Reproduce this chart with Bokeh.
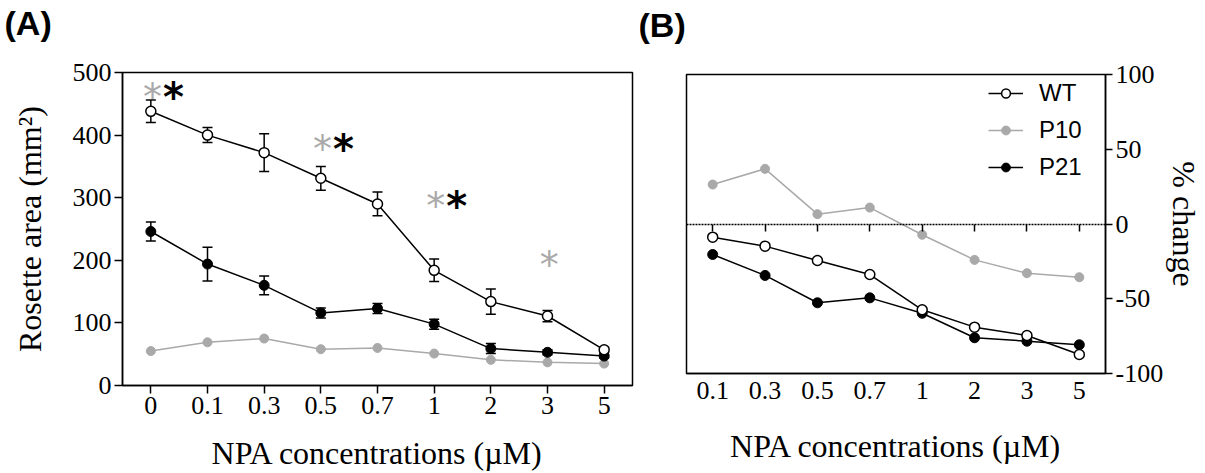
from bokeh.plotting import figure
from bokeh.models import (FactorRange, Range1d, Whisker, ColumnDataSource, CategoricalAxis,
                          SingleIntervalTicker, Legend, LegendItem, TeeHead)
from bokeh.transform import dodge
from bokeh.layouts import row, column
from bokeh.embed import file_html
from bokeh.resources import INLINE
from bokeh.core.properties import value

# ---------------- data ----------------
conc_a = ["0", "0.1", "0.3", "0.5", "0.7", "1", "2", "3", "5"]
wt_area = [438, 400, 372, 331, 290, 184, 134, 111, 57]
wt_err = [18, 12, 30, 19, 19, 18, 20, 9, 4]
p21_area = [246, 194, 160, 116, 123, 98, 59, 53, 47]
p21_err = [15, 27, 15, 8, 8, 8, 8, 4, 3]
p10_area = [55, 69, 75, 58, 60, 51, 41, 37, 35]

star_grey_conc = ["0", "0.5", "1", "3"]
star_grey_y = [474, 391, 300, 205]
star_black_conc = ["0", "0.5", "1"]
star_black_y = [474, 391, 300]

conc_b = ["0.1", "0.3", "0.5", "0.7", "1", "2", "3", "5"]
wt_change = [-8.8, -14.8, -24.4, -33.8, -57.4, -69.0, -74.6, -87.3]
p10_change = [26.4, 36.9, 6.6, 11.0, -7.2, -24.0, -32.9, -35.6]
p21_change = [-20.4, -34.4, -52.7, -49.4, -59.7, -76.1, -78.4, -80.8]

x_title = "NPA concentrations (µM)"
y_title_a = "Rosette area (mm²)"
y_title_b = "% change"

# ---------------- style ----------------
SERIF = "Liberation Serif"
SANS = "Liberation Sans"
GREY = "#a9a9a9"
TICK_FS = "26px"
LABEL_FS = "32px"


def style_axis(ax, tick_out=8):
    ax.axis_line_width = 1.5
    ax.axis_line_color = "black"
    ax.major_tick_line_width = 1.5
    ax.major_tick_line_color = "black"
    ax.major_tick_in = 0
    ax.major_tick_out = tick_out
    ax.minor_tick_line_color = None
    ax.major_label_text_font = SERIF
    ax.major_label_text_font_size = TICK_FS
    ax.major_label_text_color = "black"
    ax.axis_label_text_font = SERIF
    ax.axis_label_text_font_size = LABEL_FS
    ax.axis_label_text_font_style = "normal"
    ax.axis_label_text_color = "black"


def style_fig(p, offset):
    p.xgrid.visible = False
    p.ygrid.visible = False
    p.outline_line_color = "black"
    p.outline_line_width = 1.5
    p.background_fill_color = "white"
    p.border_fill_color = "white"
    p.title.text_font = SANS
    p.title.text_font_size = "34px"
    p.title.text_font_style = "bold"
    p.title.text_color = "black"
    p.title.text_line_height = 0.8
    p.title.align = "left"
    p.title.offset = offset
    p.title.standoff = 0


# ---------------- panel A ----------------
srcA = ColumnDataSource(dict(
    conc=conc_a,
    wt=wt_area,
    wt_lo=[v - e for v, e in zip(wt_area, wt_err)],
    wt_hi=[v + e for v, e in zip(wt_area, wt_err)],
    p21=p21_area,
    p21_lo=[v - e for v, e in zip(p21_area, p21_err)],
    p21_hi=[v + e for v, e in zip(p21_area, p21_err)],
    p10=p10_area,
))

pA = figure(x_range=FactorRange(*conc_a), y_range=Range1d(0, 500),
            width=640, height=473, title="(A)\n",
            min_border_left=122, min_border_right=8, min_border_top=72, min_border_bottom=88,
            output_backend="svg", toolbar_location=None)
style_fig(pA, -118)

style_axis(pA.xaxis[0])
pA.xaxis[0].major_label_standoff = 3
pA.xaxis[0].axis_label = x_title
pA.xaxis[0].axis_label_standoff = 18

style_axis(pA.yaxis[0])
pA.yaxis[0].ticker = SingleIntervalTicker(interval=100, num_minor_ticks=0)
pA.yaxis[0].major_label_standoff = 3
pA.yaxis[0].axis_label = y_title_a
pA.yaxis[0].axis_label_standoff = 22

for lo, hi in (("wt_lo", "wt_hi"), ("p21_lo", "p21_hi")):
    w = Whisker(base="conc", lower=lo, upper=hi, source=srcA, line_width=1.5, line_color="black",
                upper_head=TeeHead(size=10, line_width=1.5, line_color="black"),
                lower_head=TeeHead(size=10, line_width=1.5, line_color="black"))
    pA.add_layout(w)

pA.line("conc", "p10", source=srcA, line_color=GREY, line_width=1.5)
pA.scatter("conc", "p10", source=srcA, size=9, fill_color=GREY, line_color=GREY)
pA.line("conc", "p21", source=srcA, line_color="black", line_width=1.5)
pA.scatter("conc", "p21", source=srcA, size=10, fill_color="black", line_color="black")
pA.line("conc", "wt", source=srcA, line_color="black", line_width=1.5)
pA.scatter("conc", "wt", source=srcA, size=10, fill_color="white", line_color="black", line_width=1.5)

srcSG = ColumnDataSource(dict(conc=star_grey_conc, y=star_grey_y))
srcSB = ColumnDataSource(dict(conc=star_black_conc, y=star_black_y))
pA.text(x=dodge("conc", 0.03, range=pA.x_range), y="y", source=srcSG, text=value("*"),
        text_font=value("DejaVu Sans"), text_font_size="38px", text_color=GREY,
        text_align="center", text_baseline="middle", y_offset=8)
pA.text(x=dodge("conc", 0.40, range=pA.x_range), y="y", source=srcSB, text=value("*"),
        text_font=value("DejaVu Sans"), text_font_size="40px", text_color="black",
        text_font_style="bold", text_align="center", text_baseline="middle", y_offset=8)

# ---------------- panel B ----------------
srcB = ColumnDataSource(dict(conc=conc_b, wt=wt_change, p10=p10_change, p21=p21_change))

pB = figure(x_range=FactorRange(*conc_b), y_range=Range1d(-100, 100), y_axis_location="right",
            width=565, height=473, title="(B)\n",
            min_border_left=46, min_border_right=99, min_border_top=74, min_border_bottom=100,
            output_backend="svg", toolbar_location=None)
style_fig(pB, -48)

style_axis(pB.xaxis[0], tick_out=0)
pB.xaxis[0].major_label_standoff = 8
pB.xaxis[0].axis_label = x_title
pB.xaxis[0].axis_label_standoff = 26

style_axis(pB.yaxis[0], tick_out=7)
pB.yaxis[0].ticker = SingleIntervalTicker(interval=50, num_minor_ticks=0)
pB.yaxis[0].major_label_overrides = {-100: "-100", -50: "-50"}
pB.yaxis[0].major_label_standoff = 3
pB.yaxis[0].axis_label = y_title_b
pB.yaxis[0].axis_label_standoff = 0

zero_axis = CategoricalAxis(fixed_location=0)
style_axis(zero_axis, tick_out=7)
zero_axis.axis_line_dash = "2 1"
zero_axis.major_label_text_color = None
zero_axis.major_label_text_font_size = "1px"
pB.add_layout(zero_axis, "below")

l10 = pB.line("conc", "p10", source=srcB, line_color=GREY, line_width=1.5)
s10 = pB.scatter("conc", "p10", source=srcB, size=9, fill_color=GREY, line_color=GREY)
l21 = pB.line("conc", "p21", source=srcB, line_color="black", line_width=1.5)
s21 = pB.scatter("conc", "p21", source=srcB, size=10, fill_color="black", line_color="black")
lwt = pB.line("conc", "wt", source=srcB, line_color="black", line_width=1.5)
swt = pB.scatter("conc", "wt", source=srcB, size=10, fill_color="white", line_color="black", line_width=1.5)

legend = Legend(items=[LegendItem(label="WT", renderers=[lwt, swt]),
                       LegendItem(label="P10", renderers=[l10, s10]),
                       LegendItem(label="P21", renderers=[l21, s21])],
                location=(302, 192), padding=0, margin=0, spacing=9,
                glyph_width=35, glyph_height=22, label_height=28, label_standoff=16,
                label_text_font=SANS, label_text_font_size="24px", label_text_color="black",
                border_line_color=None, background_fill_alpha=0)
pB.add_layout(legend)

layout = row(column(pA), column(pB))
open("out.html", "w").write(file_html(layout, INLINE))
